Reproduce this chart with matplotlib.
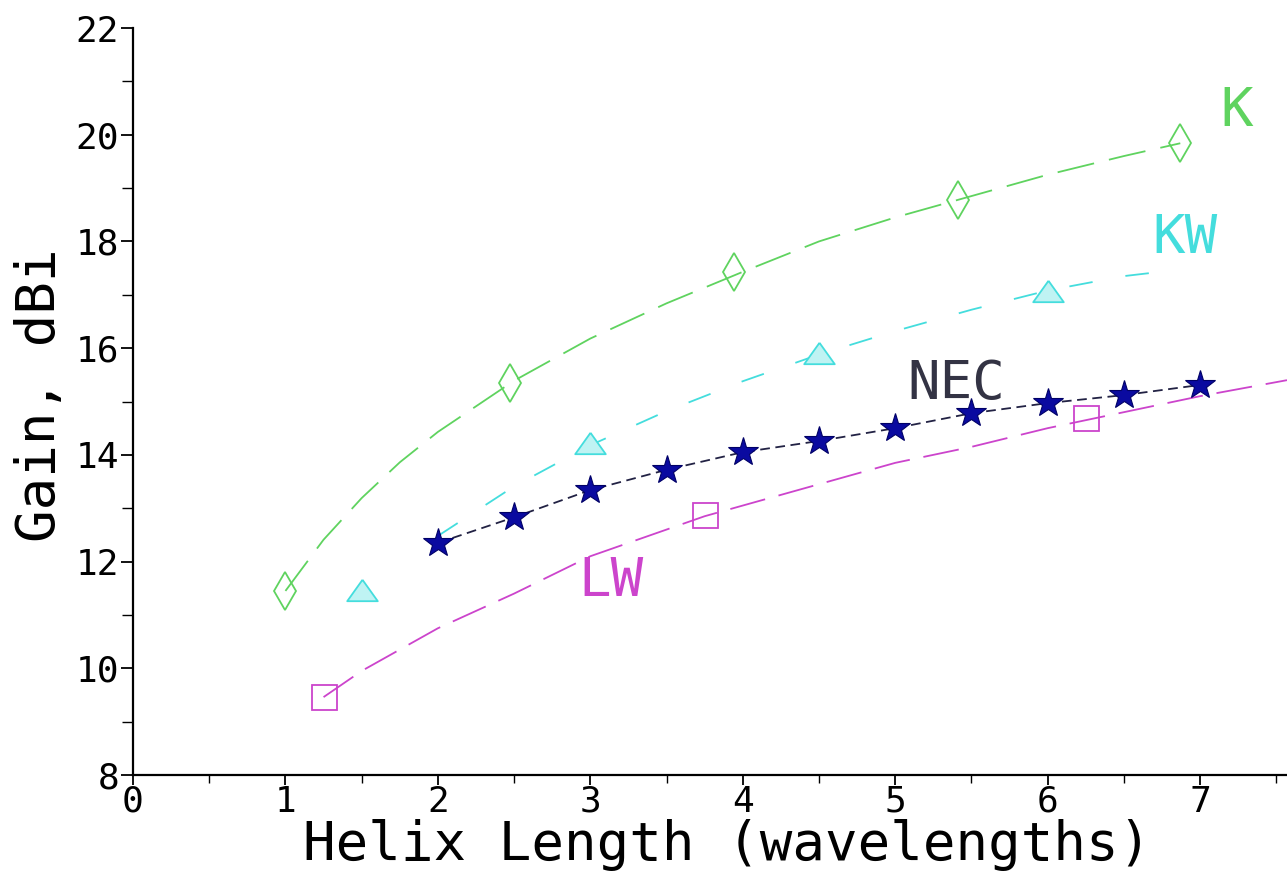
import matplotlib
matplotlib.use("Agg")
import matplotlib.pyplot as plt
from matplotlib.ticker import MultipleLocator

plt.rcParams['font.family'] = ['DejaVu Sans Mono', 'DejaVu Sans']
plt.rcParams['lines.scale_dashes'] = False

# ---- data ----
k_x = [1.0, 2.47, 3.94, 5.41, 6.87]
k_y = [11.45, 15.35, 17.43, 18.78, 19.84]
k_curve_x = [1.0, 1.25, 1.5, 1.75, 2.0, 2.5, 3.0, 3.5, 4.0, 4.5, 5.0, 5.5, 6.0, 6.5, 6.87]
k_curve_y = [11.45, 12.41, 13.19, 13.86, 14.43, 15.39, 16.18, 16.84, 17.43, 18.0, 18.45, 18.85, 19.25, 19.6, 19.84]

kw_x = [1.5, 3.0, 4.5, 6.0]
kw_y = [11.47, 14.22, 15.9, 17.07]
kw_curve_x = [2.0, 2.5, 3.0, 3.5, 4.0, 4.5, 5.0, 5.5, 6.0, 6.5, 6.8]
kw_curve_y = [12.48, 13.41, 14.18, 14.82, 15.38, 15.88, 16.32, 16.72, 17.08, 17.35, 17.45]

nec_x = [2.0, 2.5, 3.0, 3.5, 4.0, 4.5, 5.0, 5.5, 6.0, 6.5, 7.0]
nec_y = [12.35, 12.83, 13.34, 13.72, 14.05, 14.26, 14.5, 14.78, 14.97, 15.12, 15.31]

lw_x = [1.25, 3.75, 6.25]
lw_y = [9.46, 12.87, 14.69]
lw_curve_x = [1.25, 1.5, 2.0, 2.5, 3.0, 3.5, 3.75, 4.0, 4.5, 5.0, 5.5, 6.0, 6.5, 7.0, 7.57]
lw_curve_y = [9.46, 9.95, 10.75, 11.4, 12.1, 12.6, 12.85, 13.05, 13.45, 13.85, 14.15, 14.5, 14.8, 15.1, 15.4]

x_ticks = [0, 1, 2, 3, 4, 5, 6, 7]
y_ticks = [8, 10, 12, 14, 16, 18, 20, 22]

labels = ["K", "KW", "NEC", "LW"]
label_x = [7.13, 6.69, 5.08, 2.92]
label_y = [20.44, 18.06, 15.33, 11.64]

# ---- styles ----
c_k = '#5fd35f'
c_kw = '#44dddd'
c_nec = '#0a0aa0'
c_lw = '#cc44cc'
label_colors = [c_k, c_kw, '#333344', c_lw]
tri_marker = [(0, 0.7), (-1, -0.7), (1, -0.7), (0, 0.7)]

fig = plt.figure(figsize=(12.87, 8.71), dpi=100)
ax = fig.add_axes([133/1287, 1 - 775/871, 1 - 133/1287, (775 - 28)/871])

ax.plot(k_curve_x, k_curve_y, color=c_k, lw=1.3, dashes=(27, 11))
ax.plot(k_x, k_y, linestyle='none', marker='d', ms=19, mfc='none', mec=c_k, mew=1.3)

ax.plot(kw_curve_x, kw_curve_y, color=c_kw, lw=1.3, dashes=(17, 24))
ax.plot(kw_x, kw_y, linestyle='none', marker=tri_marker, ms=22, mfc='#bff3f3', mec=c_kw, mew=1.3)

ax.plot(lw_curve_x, lw_curve_y, color=c_lw, lw=1.3, dashes=(26, 10))
ax.plot(lw_x, lw_y, linestyle='none', marker='s', ms=18, mfc='none', mec=c_lw, mew=1.3)

ax.plot(nec_x, nec_y, color='#222244', lw=1.3, dashes=(7, 4),
        marker='*', ms=22, mfc=c_nec, mec='#000066', mew=0.8)

for t, x, y, c in zip(labels, label_x, label_y, label_colors):
    ax.text(x, y, t, color=c, fontsize=39, ha='left', va='center')

ax.set_xlim(0, 7.57)
ax.set_ylim(8, 22)
ax.set_xticks(x_ticks)
ax.set_yticks(y_ticks)
ax.xaxis.set_minor_locator(MultipleLocator(0.5))
ax.yaxis.set_minor_locator(MultipleLocator(1))
ax.tick_params(axis='both', which='both', direction='out', colors='black', labelsize=26)
ax.tick_params(axis='x', which='major', length=7, width=1.3, pad=0)
ax.tick_params(axis='x', which='minor', length=6, width=1.0)
ax.tick_params(axis='y', which='major', length=9, width=1.3, pad=1)
ax.tick_params(axis='y', which='minor', length=8, width=1.0)

for s in ['top', 'right']:
    ax.spines[s].set_visible(False)
for s in ['left', 'bottom']:
    ax.spines[s].set_linewidth(1.6)

ax.set_xlabel("Helix Length (wavelengths)", fontsize=39)
ax.set_ylabel("Gain, dBi", fontsize=39)
ax.xaxis.set_label_coords((727 - 133) / 1154, (775 - 845) / 747)
ax.xaxis.label.set_va('center')
ax.yaxis.set_label_coords((40 - 133) / 1154, (775 - 395) / 747)
ax.yaxis.label.set_va('center')
ax.yaxis.label.set_ha('center')

for sp in ax.spines.values():
    sp.set_clip_on(False)

fig.savefig("out.png", dpi=100)
